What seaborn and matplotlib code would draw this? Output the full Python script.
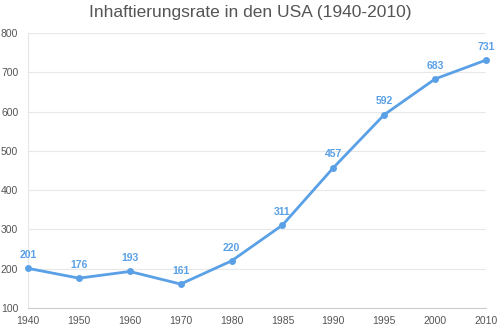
import matplotlib
matplotlib.use("Agg")
import matplotlib.pyplot as plt
import seaborn as sns
import pandas as pd

years = ["1940", "1950", "1960", "1970", "1980", "1985", "1990", "1995", "2000", "2010"]
rates = [201, 176, 193, 161, 220, 311, 457, 592, 683, 731]
y_ticks = [100, 200, 300, 400, 500, 600, 700, 800]

sns.set_theme(style="white")
plt.rcParams['font.family'] = ['Liberation Sans', 'DejaVu Sans']

color = "#5AA0E6"
df = pd.DataFrame({"pos": range(len(years)), "year": years, "rate": rates})

fig = plt.figure(figsize=(5, 3.33), dpi=100)
ax = fig.add_axes([0.056, 0.075, 0.916, 0.826])
sns.lineplot(data=df, x="pos", y="rate", ax=ax, color=color, linewidth=2,
             marker="o", markersize=5, markeredgewidth=0, clip_on=False, zorder=3)

for p, v in zip(df["pos"], df["rate"]):
    ax.annotate(str(v), (p, v), xytext=(0, 6), textcoords="offset points",
                ha="center", va="bottom", fontsize=7.5, fontweight="bold", color=color)

ax.set_xlim(0, len(years) - 1)
ax.set_ylim(100, 800)
ax.set_xticks(range(len(years)))
ax.set_xticklabels(years)
ax.set_yticks(y_ticks)
ax.tick_params(axis="both", labelsize=7.5, colors="#555555", length=3, width=0.6, pad=4)
ax.tick_params(axis="x", length=0, pad=6)
ax.tick_params(axis="y", color="#dddddd")
ax.yaxis.grid(True, color="#e8e8e8", linewidth=0.8)
ax.xaxis.grid(False)
for s in ["top", "right"]:
    ax.spines[s].set_visible(False)
ax.spines["left"].set_color("#e6e6e6")
ax.spines["left"].set_linewidth(0.8)
ax.spines["bottom"].set_color("#cccccc")
ax.spines["bottom"].set_linewidth(0.8)
ax.set_xlabel("")
ax.set_ylabel("")
fig.text(0.5, 0.962, "Inhaftierungsrate in den USA (1940-2010)", fontsize=12.5,
         color="#555555", ha="center", va="center")

fig.savefig("out.png", dpi=100)
